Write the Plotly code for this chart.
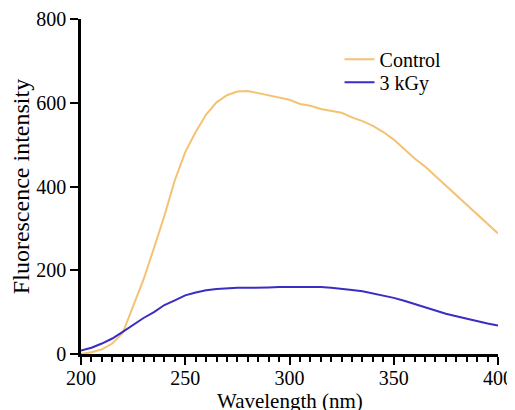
import plotly.graph_objects as go

wavelength = list(range(200, 401, 5))
control = [0, 4, 11, 25, 50, 112, 178, 253, 330, 415,
           482, 530, 572, 601, 618, 627, 628, 623, 618, 613,
           607, 597, 593, 585, 580, 576, 565, 556, 545, 530,
           512, 490, 467, 448, 425, 402, 380, 356, 332, 310, 288]
kgy3 = [8, 15, 25, 37, 53, 70, 86, 100, 117, 128,
        140, 147, 152, 155, 157, 158, 158, 158, 159, 160,
        160, 161, 161, 160, 158, 156, 153, 150, 145, 140,
        134, 127, 119, 111, 103, 96, 90, 84, 78, 73, 68]
x_ticks = [200, 250, 300, 350, 400]
y_ticks = [0, 200, 400, 600, 800]

FONT = "Liberation Serif, Times New Roman, serif"

fig = go.Figure()
fig.add_trace(go.Scatter(x=wavelength, y=control, mode="lines", name="Control",
                         line=dict(color="#F4C272", width=2), legend="legend"))
fig.add_trace(go.Scatter(x=wavelength, y=kgy3, mode="lines", name="3 kGy",
                         line=dict(color="#3A2DC2", width=2), legend="legend2"))

leg_common = dict(xanchor="left", yanchor="middle", bgcolor="rgba(0,0,0,0)",
                  font=dict(size=20), itemwidth=30)

# page body has an 8px default margin, so the figure is sized to fit the window
fig.update_layout(
    width=507, height=402,
    margin=dict(l=73, r=17, t=11, b=56),
    paper_bgcolor="white", plot_bgcolor="white",
    font=dict(family=FONT, size=20, color="black"),
    showlegend=True,
    legend=dict(x=0.62, y=1.002 - (60 - 19) / 335, **leg_common),
    legend2=dict(x=0.62, y=1.002 - (83 - 19) / 335, **leg_common),
    xaxis=dict(range=[200, 400], tickvals=x_ticks, ticks="outside", ticklen=8,
               tickwidth=2, tickcolor="black", showline=True, linecolor="black",
               linewidth=2.5, showgrid=False, zeroline=False, automargin=False,
               ticklabelstandoff=-4,
               minor=dict(dtick=5, ticks="outside", ticklen=5, tickwidth=2,
                          tickcolor="black", showgrid=False)),
    yaxis=dict(range=[0, 800], tickvals=y_ticks, ticks="outside", ticklen=8,
               tickwidth=2, tickcolor="black", showline=True, linecolor="black",
               linewidth=2.5, showgrid=False, zeroline=False, automargin=False,
               title=dict(text="Fluorescence intensity", standoff=6)),
    annotations=[dict(text="Wavelength (nm)", xref="paper", yref="paper",
                      x=0.5, y=-47 / 335, xanchor="center", yanchor="middle",
                      showarrow=False, font=dict(family=FONT, size=21, color="black"))],
)

fig.write_html("out.html")
